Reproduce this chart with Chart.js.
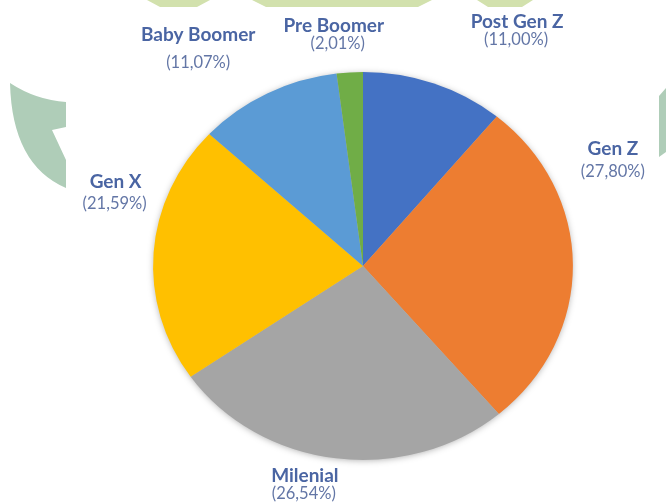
<!DOCTYPE html>
<html>
<head>
<meta charset="utf-8">
<script src="https://cdn.jsdelivr.net/npm/chart.js@4.4.0/dist/chart.umd.min.js"></script>
<style>
  html, body { margin: 0; padding: 0; background: #fff; }
  #wrap { width: 666px; height: 504px; position: relative; }
</style>
</head>
<body>
<div id="wrap"><canvas id="pie" width="666" height="504"></canvas></div>
<script>
const GENERATIONS = ["Post Gen Z", "Gen Z", "Milenial", "Gen X", "Baby Boomer", "Pre Boomer"];
const SHARES = [11.00, 27.80, 26.54, 21.59, 11.07, 2.01];
const SLICE_COLORS = ["#4472c4", "#ed7d31", "#a5a5a5", "#ffc000", "#5b9bd5", "#70ad47"];

// pie is drawn a little wider than tall
const STRETCH_X = 1.082;

// label placement: [dx, dy] of the name baseline from the slice edge, gap to the value line, value dx
const LABEL_NUDGE = [
  [83, -55, 17, -1],
  [40, -110, 22, 0],
  [-31, 24, 17, -1],
  [-38, -64, 21, -1],
  [-69, -52, 27, 0],
  [-16, -40, 17, 4],
];

const fmtPct = (v) => "(" + v.toFixed(2).replace(".", ",") + "%)";

// faint logo pieces peeking out around the white panel
const backdrop = {
  id: "backdrop",
  beforeDraw(chart) {
    const ctx = chart.ctx;
    ctx.save();
    ctx.fillStyle = "#afcdb8";
    ctx.beginPath();
    ctx.moveTo(10, 83);
    ctx.quadraticCurveTo(36, 100, 66, 102);
    ctx.lineTo(66, 127);
    ctx.lineTo(52, 130);
    ctx.lineTo(66, 160);
    ctx.lineTo(66, 188);
    ctx.quadraticCurveTo(12, 165, 10, 83);
    ctx.fill();

    ctx.beginPath();
    ctx.moveTo(659, 96);
    ctx.lineTo(666, 88);
    ctx.lineTo(666, 152);
    ctx.lineTo(659, 157);
    ctx.fill();

    ctx.fillStyle = "#d2e1ad";
    [[147, 210, 160, 197], [252, 432, 266, 418], [477, 533, 488, 522]].forEach(([a, b, c, d]) => {
      ctx.beginPath();
      ctx.moveTo(a, 0);
      ctx.lineTo(b, 0);
      ctx.lineTo(d, 7);
      ctx.lineTo(c, 7);
      ctx.fill();
    });
    ctx.restore();
  },
};

// squash the round pie into an ellipse and give it a soft shadow
const ellipsePie = {
  id: "ellipsePie",
  beforeDatasetsDraw(chart) {
    const arc = chart.getDatasetMeta(0).data[0];
    if (!arc) return;
    const { x, y, outerRadius } = arc.getProps(["x", "y", "outerRadius"], true);
    const ctx = chart.ctx;
    ctx.save();
    ctx.shadowColor = "rgba(0,0,0,0.35)";
    ctx.shadowBlur = 7;
    ctx.shadowOffsetY = 1;
    ctx.fillStyle = "#bbbbbb";
    ctx.beginPath();
    ctx.ellipse(x, y, outerRadius * STRETCH_X - 1, outerRadius - 1, 0, 0, Math.PI * 2);
    ctx.fill();
    ctx.restore();

    ctx.save();
    ctx.translate(x, y);
    ctx.scale(STRETCH_X, 1);
    ctx.translate(-x, -y);
  },
  afterDatasetsDraw(chart) {
    chart.ctx.restore();
  },
};

const sliceLabels = {
  id: "sliceLabels",
  afterDraw(chart) {
    const ctx = chart.ctx;
    const meta = chart.getDatasetMeta(0);
    ctx.save();
    ctx.textAlign = "center";
    ctx.textBaseline = "alphabetic";
    meta.data.forEach((arc, i) => {
      const { x, y, startAngle, endAngle, outerRadius } =
        arc.getProps(["x", "y", "startAngle", "endAngle", "outerRadius"], true);
      const mid = (startAngle + endAngle) / 2;
      const bx = x + Math.cos(mid) * outerRadius * STRETCH_X;
      const by = y + Math.sin(mid) * outerRadius;
      const [dx, dy, gap, vdx] = LABEL_NUDGE[i];
      const lx = bx + dx;
      const ly = by + dy;
      ctx.font = "bold 19px Lato";
      ctx.fillStyle = "#4a65a3";
      ctx.fillText(chart.data.labels[i], lx, ly);
      ctx.font = "16.5px Lato";
      ctx.fillStyle = "#6376a6";
      ctx.fillText(fmtPct(chart.data.datasets[0].data[i]), lx + vdx, ly + gap);
    });
    ctx.restore();
  },
};

new Chart(document.getElementById("pie"), {
  type: "pie",
  data: {
    labels: GENERATIONS,
    datasets: [
      {
        data: SHARES,
        backgroundColor: SLICE_COLORS,
        borderWidth: 0,
        clip: false,
      },
    ],
  },
  options: {
    responsive: false,
    devicePixelRatio: 1,
    animation: false,
    events: [],
    layout: {
      padding: { top: 72, bottom: 44, left: 169, right: 109 },
    },
    plugins: {
      legend: { display: false },
      tooltip: { enabled: false },
    },
  },
  plugins: [backdrop, ellipsePie, sliceLabels],
});
</script>
</body>
</html>
